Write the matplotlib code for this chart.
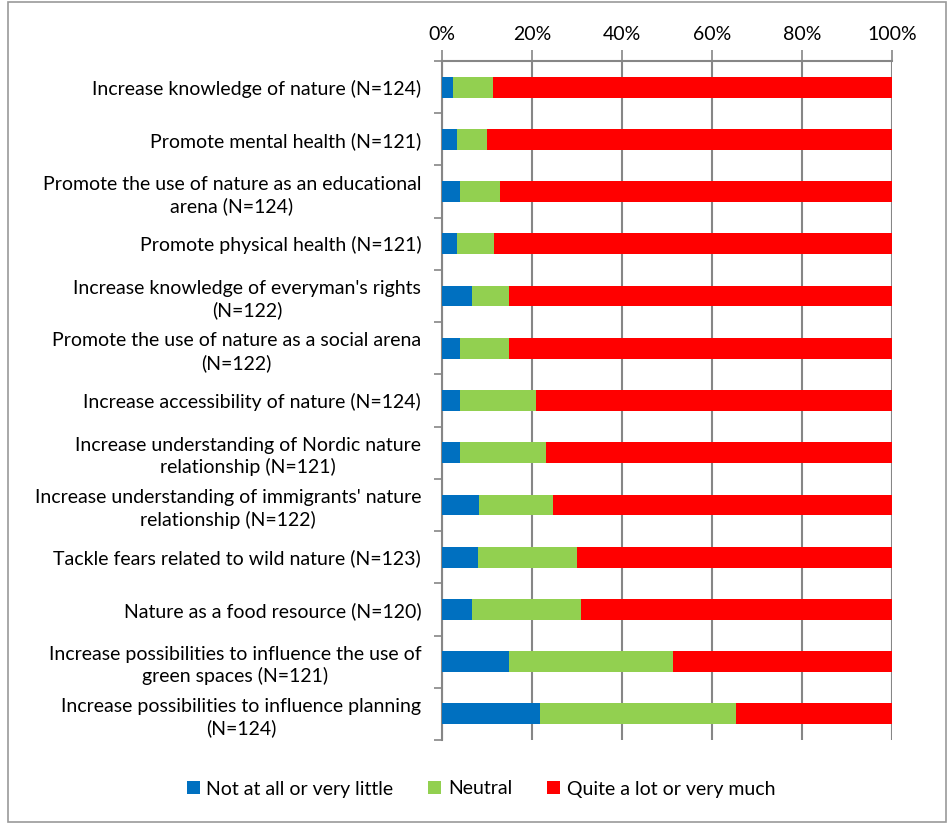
import matplotlib
matplotlib.use("Agg")
import matplotlib.pyplot as plt
from matplotlib.patches import Rectangle
import numpy as np

categories = [
    "Increase knowledge of nature (N=124)",
    "Promote mental health (N=121)",
    "Promote the use of nature as an educational\narena (N=124)",
    "Promote physical health (N=121)",
    "Increase knowledge of everyman's rights\n(N=122)",
    "Promote the use of nature as a social arena\n(N=122)",
    "Increase accessibility of nature (N=124)",
    "Increase understanding of Nordic nature\nrelationship (N=121)",
    "Increase understanding of immigrants' nature\nrelationship (N=122)",
    "Tackle fears related to wild nature (N=123)",
    "Nature as a food resource (N=120)",
    "Increase possibilities to influence the use of\ngreen spaces (N=121)",
    "Increase possibilities to influence planning\n(N=124)",
]
not_at_all = [2.4, 3.3, 4.0, 3.3, 6.6, 4.1, 4.0, 4.1, 8.2, 8.1, 6.7, 14.9, 21.8]
neutral = [8.9, 6.6, 8.9, 8.3, 8.2, 10.7, 16.9, 19.0, 16.4, 22.0, 24.2, 36.4, 43.5]
quite_a_lot = [100 - a - b for a, b in zip(not_at_all, neutral)]
series_names = ["Not at all or very little", "Neutral", "Quite a lot or very much"]
colors = ["#0070C0", "#92D050", "#FF0000"]
xticks = [0, 20, 40, 60, 80, 100]
xticklabels = ["0%", "20%", "40%", "60%", "80%", "100%"]

plt.rcParams['font.family'] = ['Lato', 'DejaVu Sans']
W, H = 947, 824
fig = plt.figure(figsize=(W / 100, H / 100), dpi=100)
fig.patches.append(Rectangle((8 / W, 2 / H), (946 - 8) / W, (822 - 2) / H,
                             transform=fig.transFigure, fill=False,
                             edgecolor="#9a9a9a", linewidth=1.2))

left, right, top, bottom = 442, 892, 61, 740
ax = fig.add_axes([left / W, 1 - bottom / H, (right - left) / W, (bottom - top) / H])

y = np.arange(len(categories))
vals = [not_at_all, neutral, quite_a_lot]
starts = np.zeros(len(categories))
handles = []
for v, c, name in zip(vals, colors, series_names):
    h = ax.barh(y, v, left=starts, height=0.4, color=c, label=name, zorder=3)
    handles.append(h)
    starts = starts + np.array(v)

ax.set_xlim(0, 100)
ax.set_ylim(len(categories) - 0.5, -0.5)
ax.xaxis.tick_top()
ax.set_xticks(xticks)
ax.set_xticklabels(xticklabels, fontsize=14)
ax.tick_params(axis='x', length=8, color="#868686", width=1.2, pad=5)
ax.grid(axis='x', color="#868686", linewidth=1.5, zorder=0)

ax.set_yticks(y)
ax.set_yticklabels(categories, fontsize=14, multialignment='center', linespacing=1.3)
ax.set_yticks(np.arange(-0.5, len(categories) + 0.5, 1), minor=True)
ax.tick_params(axis='y', which='major', length=0, pad=15)
ax.tick_params(axis='y', which='minor', length=6, color="#868686", width=1.2)

for s in ['right', 'bottom']:
    ax.spines[s].set_visible(False)
ax.spines['left'].set_color("#868686")
ax.spines['left'].set_linewidth(1.5)
ax.spines['top'].set_color("#868686")
ax.spines['top'].set_linewidth(1.5)

fig.legend(handles=handles, labels=series_names, loc='center',
           bbox_to_anchor=(481 / W, 1 - 789 / H), ncol=3, frameon=False,
           fontsize=14, handlelength=0.65, handleheight=0.65,
           handletextpad=0.35, columnspacing=1.8)

fig.savefig("out.png", dpi=100)
